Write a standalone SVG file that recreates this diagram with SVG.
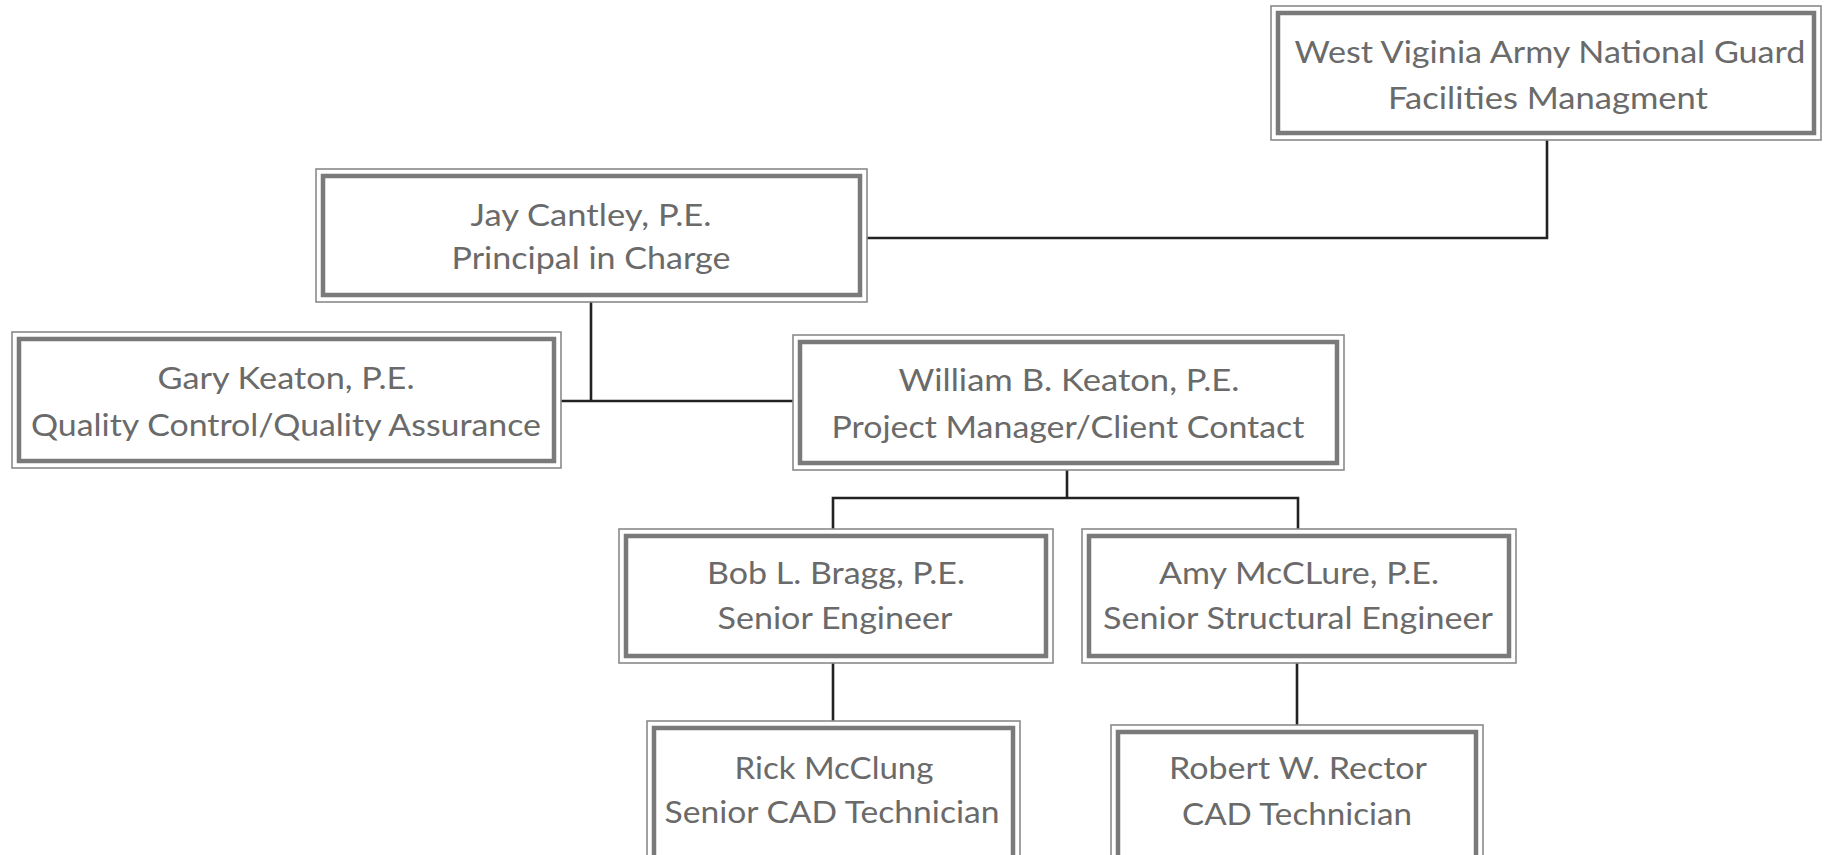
<svg xmlns="http://www.w3.org/2000/svg" width="1824" height="855" viewBox="0 0 1824 855">
<style>
.o{fill:none;stroke:#8a8a8a;stroke-width:1.6}
.i{fill:#fff;stroke:#7a7a7a;stroke-width:4.5}
.t{font-family:Lato,"Open Sans","Liberation Sans",sans-serif;font-size:31px;fill:#6a6a6a;text-anchor:middle}
.c{fill:none;stroke:#222;stroke-width:2.6}
</style>
<rect width="1824" height="855" fill="#fff"/>
<g id="connectors">
<polyline class="c" points="1547,140 1547,238 867,238"/>
<polyline class="c" points="591,302 591,401"/>
<line class="c" x1="561" y1="401" x2="793" y2="401"/>
<polyline class="c" points="1067,470 1067,498"/>
<polyline class="c" points="833,529 833,498 1298,498 1298,529"/>
<line class="c" x1="833" y1="663" x2="833" y2="721" stroke="#444"/>
<line class="c" x1="1297" y1="663" x2="1297" y2="725" stroke="#444"/>
</g>
<g id="wvarng">
<rect class="o" x="1271" y="6" width="550" height="134"/>
<rect class="i" x="1278" y="13" width="536" height="120"/>
<text class="t" x="1550" y="63" textLength="511" lengthAdjust="spacingAndGlyphs">West Viginia Army National Guard</text>
<text class="t" x="1548" y="109" textLength="320" lengthAdjust="spacingAndGlyphs">Facilities Managment</text>
</g>
<g id="jay">
<rect class="o" x="316" y="169" width="551" height="133"/>
<rect class="i" x="323" y="176" width="537" height="119"/>
<text class="t" x="591" y="226" textLength="241" lengthAdjust="spacingAndGlyphs">Jay Cantley, P.E.</text>
<text class="t" x="591" y="269" textLength="279" lengthAdjust="spacingAndGlyphs">Principal in Charge</text>
</g>
<g id="gary">
<rect class="o" x="12" y="332" width="549" height="136"/>
<rect class="i" x="19" y="339" width="535" height="122"/>
<text class="t" x="286" y="389" textLength="257" lengthAdjust="spacingAndGlyphs">Gary Keaton, P.E.</text>
<text class="t" x="286" y="436" textLength="510" lengthAdjust="spacingAndGlyphs">Quality Control/Quality Assurance</text>
</g>
<g id="william">
<rect class="o" x="793" y="335" width="551" height="135"/>
<rect class="i" x="800" y="342" width="537" height="121"/>
<text class="t" x="1069" y="391" textLength="341" lengthAdjust="spacingAndGlyphs">William B. Keaton, P.E.</text>
<text class="t" x="1068" y="438" textLength="473" lengthAdjust="spacingAndGlyphs">Project Manager/Client Contact</text>
</g>
<g id="bob">
<rect class="o" x="619" y="529" width="434" height="134"/>
<rect class="i" x="626" y="536" width="420" height="120"/>
<text class="t" x="836" y="584" textLength="258" lengthAdjust="spacingAndGlyphs">Bob L. Bragg, P.E.</text>
<text class="t" x="835" y="629" textLength="235" lengthAdjust="spacingAndGlyphs">Senior Engineer</text>
</g>
<g id="amy">
<rect class="o" x="1082" y="529" width="434" height="134"/>
<rect class="i" x="1089" y="536" width="420" height="120"/>
<text class="t" x="1299" y="584" textLength="280" lengthAdjust="spacingAndGlyphs">Amy McCLure, P.E.</text>
<text class="t" x="1298" y="629" textLength="390" lengthAdjust="spacingAndGlyphs">Senior Structural Engineer</text>
</g>
<g id="rick">
<rect class="o" x="647" y="721" width="373" height="145"/>
<rect class="i" x="654" y="728" width="359" height="131"/>
<text class="t" x="834" y="779" textLength="199" lengthAdjust="spacingAndGlyphs">Rick McClung</text>
<text class="t" x="832" y="823" textLength="335" lengthAdjust="spacingAndGlyphs">Senior CAD Technician</text>
</g>
<g id="robert">
<rect class="o" x="1111" y="725" width="372" height="145"/>
<rect class="i" x="1118" y="732" width="358" height="131"/>
<text class="t" x="1298" y="779" textLength="258" lengthAdjust="spacingAndGlyphs">Robert W. Rector</text>
<text class="t" x="1297" y="825" textLength="230" lengthAdjust="spacingAndGlyphs">CAD Technician</text>
</g>
</svg>
